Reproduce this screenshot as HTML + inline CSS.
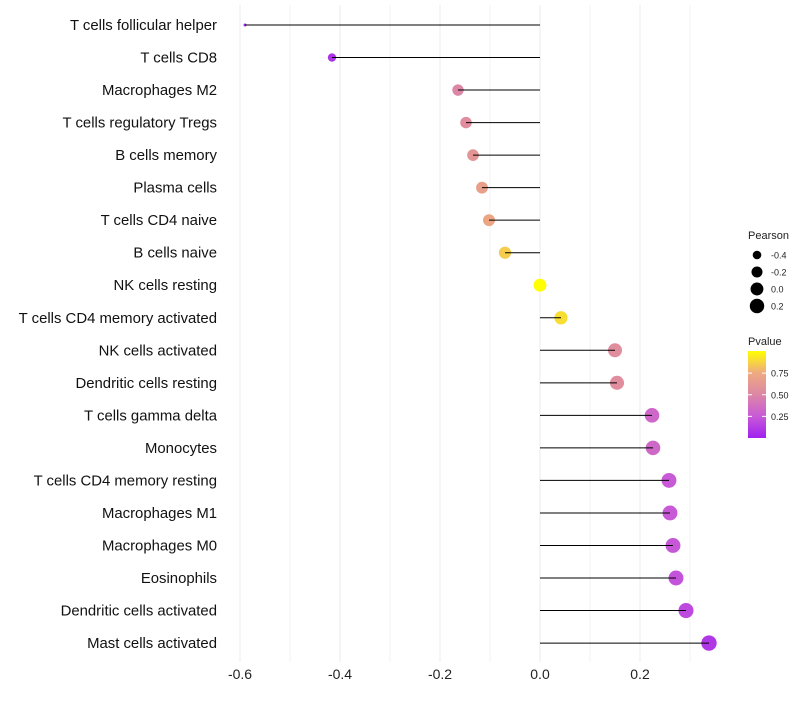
<!DOCTYPE html>
<html><head><meta charset="utf-8"><style>
body{margin:0;background:#fff;font-family:"Liberation Sans",sans-serif;}
</style></head><body>
<svg id="chart" width="800" height="700" xmlns="http://www.w3.org/2000/svg" font-family="Liberation Sans, sans-serif"></svg>
<script>
const categories=["T cells follicular helper","T cells CD8","Macrophages M2","T cells regulatory  Tregs ","B cells memory","Plasma cells","T cells CD4 naive","B cells naive","NK cells resting","T cells CD4 memory activated","NK cells activated","Dendritic cells resting","T cells gamma delta","Monocytes","T cells CD4 memory resting","Macrophages M1","Macrophages M0","Eosinophils","Dendritic cells activated","Mast cells activated"];
const pearson=[-0.59,-0.416,-0.164,-0.148,-0.134,-0.116,-0.102,-0.07,0.0,0.042,0.15,0.154,0.224,0.226,0.258,0.26,0.266,0.272,0.292,0.338];
const pvalue=[0.05,0.08,0.5,0.55,0.6,0.68,0.72,0.85,1.0,0.9,0.55,0.55,0.32,0.33,0.25,0.25,0.24,0.22,0.18,0.1];
const xTicks=[-0.6,-0.4,-0.2,0.0,0.2];
const xTickLabels=["-0.6","-0.4","-0.2","0.0","0.2"];
const sizeLegend=[-0.4,-0.2,0.0,0.2];
const colorTicks=[0.25,0.5,0.75];

const NS="http://www.w3.org/2000/svg";
const svg=document.getElementById('chart');
function mk(t,a,p){const e=document.createElementNS(NS,t);for(const k in a)e.setAttribute(k,a[k]);(p||svg).appendChild(e);return e;}
const x=v=>540+v*500;
const y=i=>25+i*32.53;
const r=v=>1.5+6.2*Math.sqrt(Math.max(0,(v+0.59)/0.93));
const stops=[[0,[160,32,240]],[0.25,[200,90,215]],[0.5,[220,135,165]],[0.75,[238,170,128]],[1,[255,255,0]]];
function col(p){for(let i=1;i<stops.length;i++){if(p<=stops[i][0]){const a=stops[i-1],b=stops[i];const t=(p-a[0])/(b[0]-a[0]);return 'rgb('+a[1].map((c,j)=>Math.round(c+(b[1][j]-c)*t)).join(',')+')';}}return 'rgb(255,255,0)';}

for(let k=-6;k<=3;k++){const v=k/10;const g=mk('line',{x1:x(v),x2:x(v),y1:5,y2:662,stroke:'#ebebeb','stroke-width':k%2===0?1:0.6});
}
xTicks.forEach((v,i)=>{const t=mk('text',{x:x(v),y:679,'text-anchor':'middle','font-size':14,fill:'#222'});t.textContent=xTickLabels[i];
});
categories.forEach((c,i)=>{
const t=mk('text',{x:217,y:y(i)+5,'text-anchor':'end','font-size':14.9,fill:'#111'});t.textContent=c;

const d=mk('circle',{cx:x(pearson[i]),cy:y(i),r:r(pearson[i]),fill:col(pvalue[i])});

const l=mk('line',{x1:x(0),x2:x(pearson[i]),y1:y(i),y2:y(i),stroke:'#000','stroke-width':1});

});
let tt=mk('text',{x:748,y:239,'font-size':11,fill:'#222'});tt.textContent='Pearson';

sizeLegend.forEach((v,i)=>{const cy=255+i*17;const c=mk('circle',{cx:757,cy:cy,r:r(v),fill:'#000'});

const t=mk('text',{x:771,y:cy+3.5,'font-size':9,fill:'#222'});t.textContent=v.toFixed(1);
});
tt=mk('text',{x:748,y:345,'font-size':11,fill:'#222'});tt.textContent='Pvalue';

const defs=mk('defs',{});const lg=mk('linearGradient',{id:'pg',x1:0,y1:1,x2:0,y2:0},defs);
stops.forEach(s=>mk('stop',{offset:s[0],'stop-color':'rgb('+s[1].join(',')+')'},lg));
const bar=mk('rect',{x:748,y:351,width:18,height:87,fill:'url(#pg)'});

const cy=p=>438-p*86.5;
colorTicks.forEach(p=>{mk('line',{x1:748,x2:752,y1:cy(p),y2:cy(p),stroke:'#fff'});mk('line',{x1:762,x2:766,y1:cy(p),y2:cy(p),stroke:'#fff'});
const t=mk('text',{x:771,y:cy(p)+3.5,'font-size':9,fill:'#222'});t.textContent=p.toFixed(2);
});
</script>
</body></html>
